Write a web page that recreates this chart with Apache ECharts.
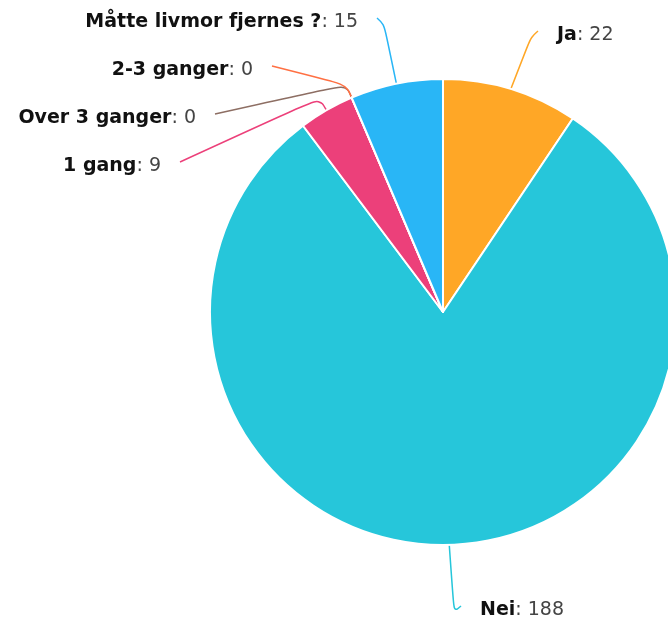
<!DOCTYPE html>
<html>
<head>
<meta charset="utf-8">
<script src="https://cdn.jsdelivr.net/npm/echarts@6/dist/echarts.min.js"></script>
<style>
  html, body { margin: 0; padding: 0; background: #fff; }
  #chart { width: 668px; height: 624px; }
</style>
</head>
<body>
<div id="chart"></div>
<script>
// data
const categories = ["Ja", "Nei", "1 gang", "Over 3 ganger", "2-3 ganger", "Måtte livmor fjernes ?"];
const values = [22, 188, 9, 0, 0, 15];
const colors = ["#FFA726", "#26C6DA", "#EC407A", "#8D6E63", "#FF7043", "#29B6F6"];

// where each label sits (line end point), text side, line shape
const labelSpots = [
  [538, 35, "left", "hook"],
  [461, 610, "left", "hook"],
  [180, 166, "right", "bend"],
  [215, 118, "right", "bend"],
  [272, 70, "right", "bend"],
  [377, 22, "right", "hook"]
];

const chart = echarts.init(document.getElementById("chart"));

const option = {
  animation: false,
  color: colors,
  series: [
    {
      type: "pie",
      center: [443, 312],
      radius: 233,
      startAngle: 90,
      clockwise: true,
      avoidLabelOverlap: false,
      minShowLabelAngle: -1,
      itemStyle: {
        borderColor: "#ffffff",
        borderWidth: 2
      },
      label: {
        show: true,
        formatter: function (p) {
          const txt = "{n|" + p.name + "}{v|: " + p.value + "}";
          // gap between line end and text
          return labelSpots[p.dataIndex][2] === "left" ? "{s|}" + txt : txt + "{s|}";
        },
        rich: {
          n: {
            fontFamily: "DejaVu Sans",
            fontSize: 19,
            fontWeight: "bold",
            color: "#111111"
          },
          v: {
            fontFamily: "DejaVu Sans",
            fontSize: 19,
            color: "#444444"
          },
          s: { width: 19 }
        }
      },
      labelLine: {
        show: true,
        smooth: 0.4,
        length: 14,
        length2: 10,
        lineStyle: { width: 1.5 }
      },
      labelLayout: function (params) {
        const s = labelSpots[params.dataIndex];
        const out = {
          x: s[0],
          y: s[1],
          align: s[2],
          verticalAlign: "middle",
          hideOverlap: false
        };
        const pts = params.labelLinePoints;
        if (pts && pts.length >= 2) {
          const end = [s[0], s[1] - 4];
          const dir = s[2] === "left" ? 1 : -1;
          const mid = s[3] === "hook" ? [s[0] - dir * 7, s[1] + 2] : pts[1];
          out.labelLinePoints = [pts[0], mid, end];
        }
        return out;
      },
      data: categories.map((c, i) => ({ name: c, value: values[i] }))
    }
  ]
};

chart.setOption(option);
</script>
</body>
</html>
